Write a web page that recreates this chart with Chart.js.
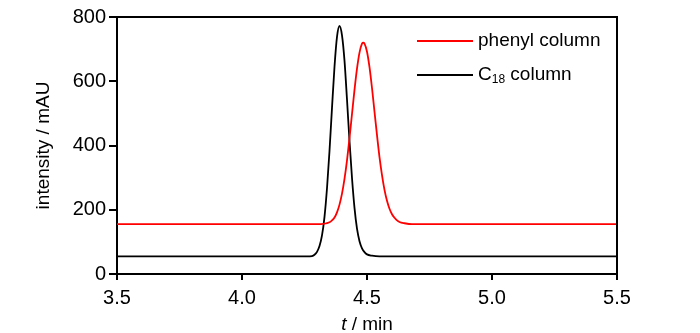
<!DOCTYPE html>
<html>
<head>
<meta charset="utf-8">
<script src="https://cdn.jsdelivr.net/npm/chart.js@4/dist/chart.umd.min.js"></script>
<style>
    html, body { margin: 0; padding: 0; background: #fff; }
    #box { width: 700px; height: 333px; position: relative; }
</style>
</head>
<body>
<div id="box"><canvas id="chart"></canvas></div>
<script>
// Du lieu doc tu hinh: thoi gian (min) va cuong do (mAU)
let phenylTime = [3.5, 4.30, 4.35, 4.36, 4.37, 4.38, 4.39, 4.40, 4.41, 4.42, 4.43, 4.44, 4.45, 4.46, 4.47, 4.48, 4.485,
    4.49, 4.50, 4.51, 4.52, 4.53, 4.54, 4.55, 4.56, 4.57, 4.58, 4.59, 4.60, 4.61, 4.62, 4.63, 4.65, 4.68, 5.5]
let phenylIntensity = [155, 155, 161, 167, 176, 192, 216, 250, 296, 354, 423, 498, 573, 639, 689, 717, 720,
    717, 692, 644, 579, 505, 432, 364, 308, 262, 228, 203, 186, 175, 167, 162, 158, 155, 155]

let c18Time = [3.5, 4.26, 4.28, 4.29, 4.30, 4.31, 4.32, 4.33, 4.34, 4.35, 4.36, 4.37, 4.38, 4.39,
    4.40, 4.41, 4.42, 4.43, 4.44, 4.45, 4.46, 4.47, 4.48, 4.49, 4.50, 4.52, 4.55, 5.5]
let c18Intensity = [55, 55, 56, 60, 69, 87, 120, 178, 267, 383, 517, 645, 738, 772,
    743, 664, 543, 414, 299, 206, 141, 102, 80, 68, 61, 57, 55, 55]

let xTicks = [3.5, 4.0, 4.5, 5.0, 5.5]
let yTicks = [0, 200, 400, 600, 800]

let seriesNames = ['phenyl column', 'C18 column']
let seriesColors = ['#ff0000', '#000000']

const FONT = '"Liberation Sans", Arial, sans-serif'

function toPoints(times, values) {
    let pts = []
    for (let i = 0; i < times.length; i++)
        pts.push({ x: times[i], y: values[i] })
    return pts
}

// Khung, chu thich va tieu de truc
const decorPlugin = {
    id: 'decor',
    afterDraw: (chart) => {
        const { ctx, chartArea } = chart
        const { left, right, top, bottom } = chartArea
        ctx.save()
        ctx.strokeStyle = '#000'
        ctx.lineWidth = 2
        ctx.beginPath()
        ctx.moveTo(left - 1, top)
        ctx.lineTo(right, top)
        ctx.lineTo(right, bottom + 1)
        ctx.stroke()

        // chu thich
        ctx.font = '19px ' + FONT
        ctx.textBaseline = 'middle'
        ctx.textAlign = 'left'
        let rows = [41, 75]
        for (let i = 0; i < rows.length; i++) {
            ctx.strokeStyle = seriesColors[i]
            ctx.lineWidth = 1.8
            ctx.beginPath()
            ctx.moveTo(417, rows[i])
            ctx.lineTo(473, rows[i])
            ctx.stroke()
        }
        ctx.fillStyle = '#000'
        ctx.fillText('phenyl column', 478, rows[0])
        ctx.fillText('C', 478, rows[1])
        let cw = ctx.measureText('C').width
        ctx.font = '12px ' + FONT
        ctx.fillText('18', 478 + cw, rows[1] + 5)
        let sw = ctx.measureText('18').width
        ctx.font = '19px ' + FONT
        ctx.fillText(' column', 478 + cw + sw, rows[1])

        // tieu de truc x
        ctx.textBaseline = 'alphabetic'
        ctx.font = 'italic 19px ' + FONT
        let tw = ctx.measureText('t').width
        ctx.font = '19px ' + FONT
        let rw = ctx.measureText(' / min').width
        let cx = (left + right) / 2 - (tw + rw) / 2
        ctx.font = 'italic 19px ' + FONT
        ctx.fillText('t', cx, 330)
        ctx.font = '19px ' + FONT
        ctx.fillText(' / min', cx + tw, 330)

        // tieu de truc y
        ctx.translate(49, (top + bottom) / 2)
        ctx.rotate(-Math.PI / 2)
        ctx.textAlign = 'center'
        ctx.fillText('intensity / mAU', 0, 0)
        ctx.restore()
    }
}

const ctx = document.getElementById('chart').getContext('2d')
new Chart(ctx, {
    type: 'line',
    data: {
        datasets: [{
            label: seriesNames[0],
            data: toPoints(phenylTime, phenylIntensity),
            borderColor: seriesColors[0],
            borderWidth: 1.8,
            pointRadius: 0,
            cubicInterpolationMode: 'monotone'
        }, {
            label: seriesNames[1],
            data: toPoints(c18Time, c18Intensity),
            borderColor: seriesColors[1],
            borderWidth: 1.8,
            pointRadius: 0,
            cubicInterpolationMode: 'monotone'
        }]
    },
    options: {
        responsive: true,
        maintainAspectRatio: false,
        animation: false,
        layout: { padding: { left: 0, right: 83, top: 17, bottom: 0 } },
        plugins: { legend: { display: false }, tooltip: { enabled: false } },
        scales: {
            x: {
                type: 'linear',
                min: 3.5,
                max: 5.5,
                afterFit: (scale) => { scale.height = 59 },
                afterBuildTicks: (scale) => { scale.ticks = xTicks.map(v => ({ value: v })) },
                ticks: {
                    color: '#000',
                    font: { family: FONT, size: 20 },
                    padding: 6,
                    maxRotation: 0,
                    callback: (v) => v.toFixed(1)
                },
                grid: { drawOnChartArea: false, drawTicks: true, tickLength: 6, color: '#000', lineWidth: 2 },
                border: { display: true, color: '#000', width: 2 }
            },
            y: {
                min: 0,
                max: 800,
                afterFit: (scale) => { scale.width = 117 },
                afterBuildTicks: (scale) => { scale.ticks = yTicks.map(v => ({ value: v })) },
                ticks: {
                    color: '#000',
                    font: { family: FONT, size: 20 },
                    padding: 3
                },
                grid: { drawOnChartArea: false, drawTicks: true, tickLength: 8, color: '#000', lineWidth: 2 },
                border: { display: true, color: '#000', width: 2 }
            }
        }
    },
    plugins: [decorPlugin]
})
</script>
</body>
</html>
